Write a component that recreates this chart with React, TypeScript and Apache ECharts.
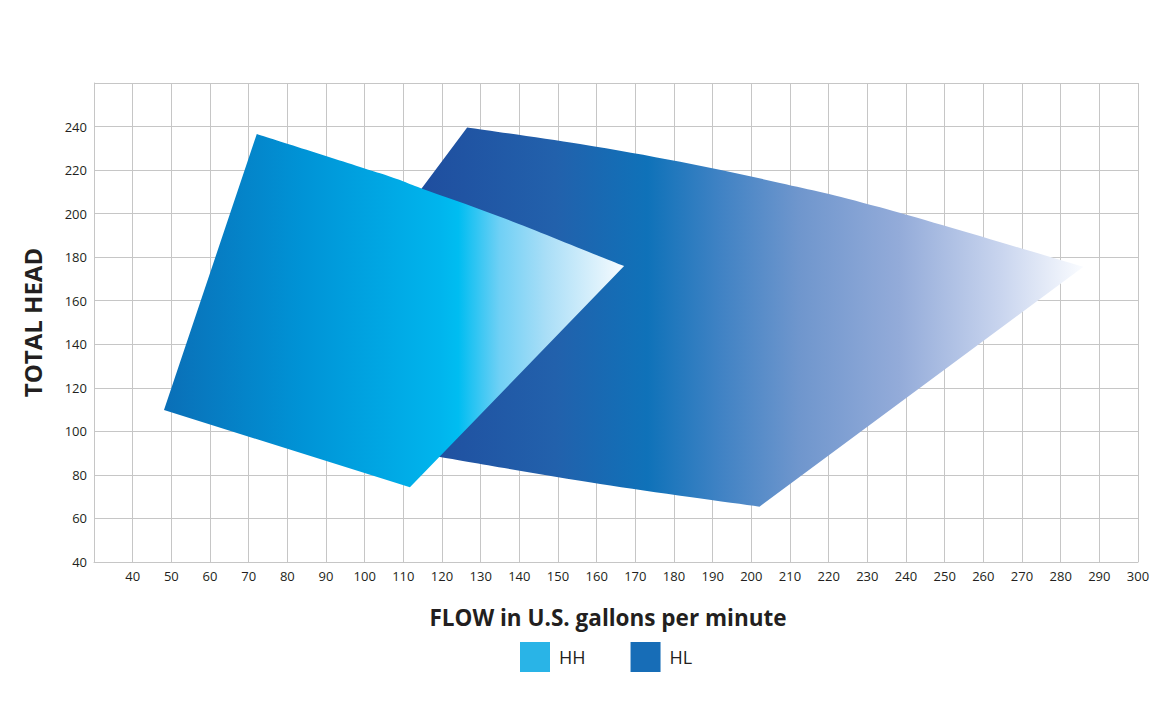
import React, { useEffect, useRef } from "react";
import * as echarts from "echarts";

// Axis ranges (FLOW in U.S. gpm, TOTAL HEAD)
const X_MIN = 30;
const X_MAX = 300;
const X_STEP = 10;
const Y_MIN = 40;
const Y_MAX = 260;
const Y_STEP = 20;

const SERIES_NAMES = ["HH", "HL"];

// HH operating envelope [flow, head]
const HH_LEFT: number[] = [48.1, 109.8];
const HH_TOP_EDGE: number[][] = [
  [72.1, 236.6],
  [104.0, 218.5],
  [114.7, 211.6],
  [135.0, 198.6],
  [167.1, 175.9],
];
const HH_BOTTOM: number[] = [111.7, 74.3];

// HL operating envelope [flow, head]
const HL_TOP_EDGE: number[][] = [
  [126.5, 239.6],
  [155.7, 232.0],
  [181.6, 223.8],
  [207.4, 214.1],
  [233.3, 202.9],
  [285.9, 175.6],
];
const HL_BOTTOM_EDGE: number[][] = [
  [202.1, 65.4],
  [160.9, 75.8],
  [119.5, 88.2],
];
const HL_LEFT: number[] = [69.2, 103.2];

const FONT = "'Open Sans', 'Noto Sans', sans-serif";
const TEXT_COLOR = "#231f20";
const GRID_COLOR = "#c6c6c6";

const HH_STOPS = [
  { offset: 0, color: "#0a6fb7" },
  { offset: 0.3, color: "#0093d6" },
  { offset: 0.6, color: "#00b5ed" },
  { offset: 0.64, color: "#00bdf1" },
  { offset: 0.73, color: "#70d0f5" },
  { offset: 0.83, color: "#a9def7" },
  { offset: 0.97, color: "#e9f6fd" },
  { offset: 1, color: "#f8fcff" },
];

const HL_STOPS = [
  { offset: 0, color: "#1f4d9e" },
  { offset: 0.2, color: "#1f4d9e" },
  { offset: 0.37, color: "#2261ac" },
  { offset: 0.48, color: "#0f72b9" },
  { offset: 0.565, color: "#3f82c4" },
  { offset: 0.66, color: "#6f96cd" },
  { offset: 0.78, color: "#93abd9" },
  { offset: 0.9, color: "#c8d4ee" },
  { offset: 1, color: "#fafcff" },
];

// smooth curve through pixel points (Catmull-Rom -> cubic bezier), assumes current point = pts[0]
function curveThrough(pts: number[][]): string {
  let d = "";
  for (let i = 0; i < pts.length - 1; i++) {
    const p0 = pts[i - 1] || pts[i];
    const p1 = pts[i];
    const p2 = pts[i + 1];
    const p3 = pts[i + 2] || p2;
    const c1x = p1[0] + (p2[0] - p0[0]) / 6;
    const c1y = p1[1] + (p2[1] - p0[1]) / 6;
    const c2x = p2[0] - (p3[0] - p1[0]) / 6;
    const c2y = p2[1] - (p3[1] - p1[1]) / 6;
    d += ` C ${c1x} ${c1y} ${c2x} ${c2y} ${p2[0]} ${p2[1]}`;
  }
  return d;
}

type Piece = { kind: "corner"; p: number[] } | { kind: "curve"; pts: number[][] };

function shapeSeries(name: string, pieces: Piece[], stops: any[], legendColor: string, anchor: number[]) {
  return {
    type: "custom",
    name,
    coordinateSystem: "cartesian2d",
    itemStyle: { color: legendColor },
    data: [anchor],
    renderItem: (_params: any, api: any) => {
      let d = "";
      let started = false;
      for (const pc of pieces) {
        if (pc.kind === "corner") {
          const c = api.coord(pc.p);
          d += `${started ? " L" : "M"} ${c[0]} ${c[1]}`;
          started = true;
        } else {
          const px = pc.pts.map((p) => api.coord(p));
          d += `${started ? " L" : "M"} ${px[0][0]} ${px[0][1]}`;
          started = true;
          d += curveThrough(px);
        }
      }
      d += " Z";
      return {
        type: "path",
        shape: { pathData: d },
        style: {
          fill: { type: "linear", x: 0, y: 0, x2: 1, y2: 0, colorStops: stops },
          stroke: "none",
        },
      };
    },
  };
}

export default function App() {
  const ref = useRef<HTMLDivElement>(null);

  useEffect(() => {
    if (!ref.current) return;
    const chart = echarts.init(ref.current, undefined, { renderer: "svg" });
    chart.setOption({
      animation: false,
      backgroundColor: "#ffffff",
      textStyle: { fontFamily: FONT },
      grid: { left: 94, right: 32, top: 83, bottom: 148, containLabel: false },
      legend: {
        data: [
          { name: SERIES_NAMES[0], itemStyle: { color: "#29b4e7" } },
          { name: SERIES_NAMES[1], itemStyle: { color: "#176db7" } },
        ],
        left: 520,
        top: 642,
        padding: 0,
        icon: "rect",
        itemWidth: 30,
        itemHeight: 30,
        itemGap: 45,
        selectedMode: false,
        textStyle: { fontSize: 18, color: TEXT_COLOR, fontFamily: FONT, padding: [0, 0, 0, 4] },
      },
      xAxis: {
        type: "value",
        min: X_MIN,
        max: X_MAX,
        interval: X_STEP,
        name: "FLOW in U.S. gallons per minute",
        nameLocation: "middle",
        nameGap: 44,
        nameTextStyle: {
          fontSize: 22.5,
          fontWeight: "bold",
          color: TEXT_COLOR,
          fontFamily: FONT,
          padding: [0, 16, 0, 0],
        },
        axisLine: { show: true, lineStyle: { color: GRID_COLOR, width: 1 } },
        axisTick: { show: false },
        axisLabel: { showMinLabel: false, fontSize: 13, color: TEXT_COLOR, margin: 7, fontFamily: FONT },
        splitLine: { show: true, lineStyle: { color: GRID_COLOR, width: 1 } },
      },
      yAxis: {
        type: "value",
        min: Y_MIN,
        max: Y_MAX,
        interval: Y_STEP,
        name: "TOTAL HEAD",
        nameLocation: "middle",
        nameGap: 50,
        nameTextStyle: { fontSize: 24, fontWeight: "bold", color: TEXT_COLOR, fontFamily: FONT },
        axisLine: { show: true, lineStyle: { color: GRID_COLOR, width: 1 } },
        axisTick: { show: false },
        axisLabel: { showMaxLabel: false, fontSize: 13, color: TEXT_COLOR, margin: 7, fontFamily: FONT },
        splitLine: { show: true, lineStyle: { color: GRID_COLOR, width: 1 } },
      },
      series: [
        shapeSeries(
          SERIES_NAMES[1],
          [
            { kind: "curve", pts: HL_TOP_EDGE },
            { kind: "curve", pts: HL_BOTTOM_EDGE },
            { kind: "corner", p: HL_LEFT },
          ],
          HL_STOPS,
          "#176db7",
          HL_TOP_EDGE[0]
        ),
        shapeSeries(
          SERIES_NAMES[0],
          [
            { kind: "corner", p: HH_LEFT },
            { kind: "curve", pts: HH_TOP_EDGE },
            { kind: "corner", p: HH_BOTTOM },
          ],
          HH_STOPS,
          "#29b4e7",
          HH_TOP_EDGE[0]
        ),
      ],
    });
    return () => chart.dispose();
  }, []);

  return (
    <div
      ref={ref}
      style={{ position: "absolute", left: 0, top: 0, width: 1170, height: 710, background: "#fff" }}
    />
  );
}
